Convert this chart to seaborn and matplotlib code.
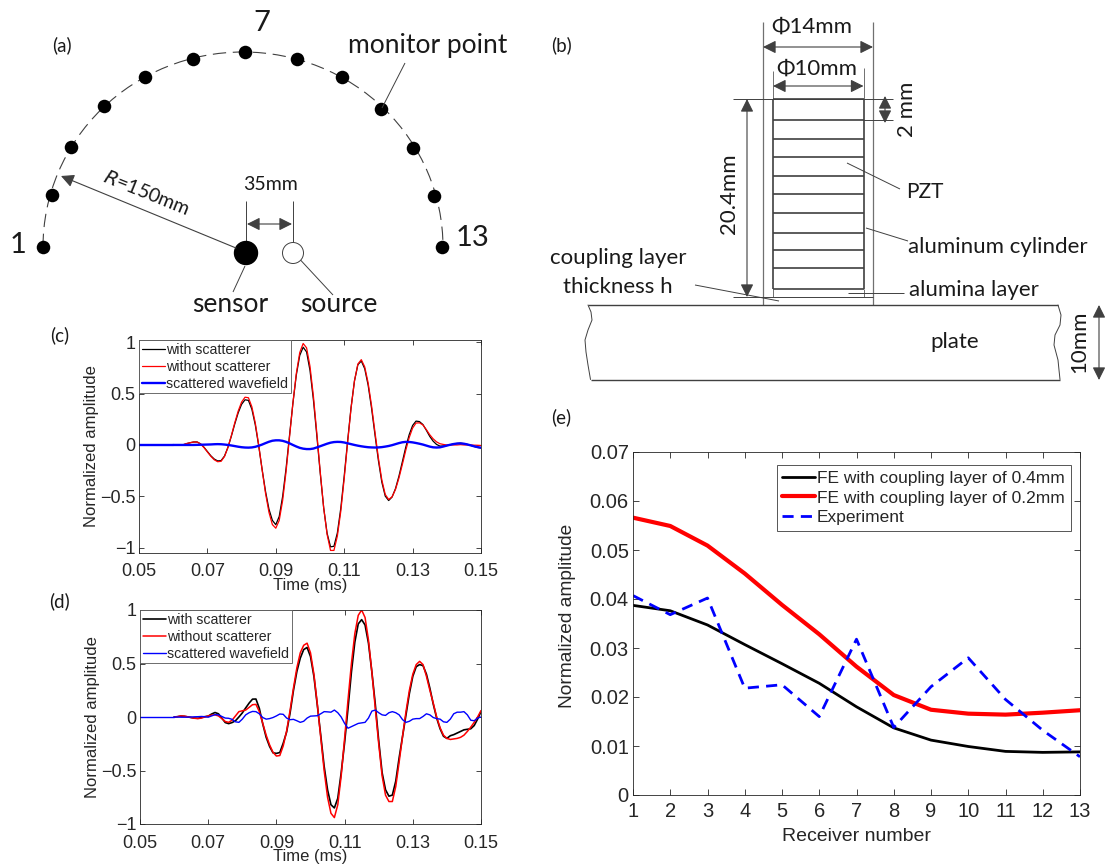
"""Five panel figure: receiver layout, transducer section, waveforms, amplitude vs receiver."""
import matplotlib.pyplot as plt
import seaborn as sns
from matplotlib.patches import Arc, Circle

# -------------------------------------------------------------------
# Data
# -------------------------------------------------------------------
time_ms = [
    0.060, 0.061, 0.062, 0.063, 0.064, 0.065, 0.066, 0.067, 0.068, 0.069,
    0.070, 0.071, 0.072, 0.073, 0.074, 0.075, 0.076, 0.077, 0.078, 0.079,
    0.080, 0.081, 0.082, 0.083, 0.084, 0.085, 0.086, 0.087, 0.088, 0.089,
    0.090, 0.091, 0.092, 0.093, 0.094, 0.095, 0.096, 0.097, 0.098, 0.099,
    0.100, 0.101, 0.102, 0.103, 0.104, 0.105, 0.106, 0.107, 0.108, 0.109,
    0.110, 0.111, 0.112, 0.113, 0.114, 0.115, 0.116, 0.117, 0.118, 0.119,
    0.120, 0.121, 0.122, 0.123, 0.124, 0.125, 0.126, 0.127, 0.128, 0.129,
    0.130, 0.131, 0.132, 0.133, 0.134, 0.135, 0.136, 0.137, 0.138, 0.139,
    0.140, 0.141, 0.142, 0.143, 0.144, 0.145, 0.146, 0.147, 0.148, 0.149,
    0.150,
]

c_without = [
    0, 0, 0, .003, .014, .022, .029, .028, .009, -.025,
    -.068, -.11, -.144, -.163, -.159, -.112, -.024, .09, .215, .329,
    .417, .464, .459, .371, .214, 0, -.242, -.47, -.655, -.774,
    -.809, -.733, -.54, -.259, .073, .405, .695, .898, .986, .944,
    .764, .473, .113, -.264, -.611, -.87, -1.025, -1.025, -.885, -.645,
    -.327, .023, .355, .622, .787, .829, .759, .603, .381, .124,
    -.127, -.34, -.481, -.53, -.504, -.432, -.322, -.19, -.052, .071,
    .164, .213, .215, .195, .15, .1, .06, .03, .012, .005,
    0, 0, 0, 0, .003, 0, 0, 0, -.002, -.003,
    -.005,
]
c_with = [
    0, 0, 0, .003, .014, .022, .029, .029, .011, -.022,
    -.064, -.105, -.137, -.155, -.152, -.108, -.024, .085, .204, .312,
    .395, .439, .433, .347, .196, -.008, -.238, -.452, -.624, -.733,
    -.775, -.695, -.5, -.229, .089, .405, .68, .87, .95, .904,
    .724, .438, .089, -.276, -.611, -.858, -.99, -.985, -.855, -.616,
    -.303, .039, .363, .622, .78, .816, .741, .581, .357, .099,
    -.151, -.361, -.497, -.54, -.506, -.424, -.304, -.164, -.022, .1,
    .189, .232, .227, .199, .144, .084, .037, .005, -.011, -.01,
    -.006, .002, .009, .014, .018, .012, .005, -.004, -.015, -.024,
    -.03,
]
c_scattered = [
    0, 0, 0, 0, 0, 0, 0, .001, .002, .003,
    .004, .005, .007, .008, .007, .004, 0, -.005, -.011, -.017,
    -.022, -.025, -.026, -.024, -.018, -.008, .004, .018, .031, .041,
    .045, .045, .04, .03, .016, 0, -.015, -.028, -.036, -.04,
    -.04, -.035, -.024, -.012, 0, .012, .022, .028, .03, .029,
    .024, .016, .008, 0, -.007, -.013, -.018, -.022, -.024, -.025,
    -.024, -.021, -.016, -.01, -.002, .008, .018, .026, .03, .029,
    .025, .019, .012, .004, -.006, -.016, -.023, -.025, -.023, -.015,
    -.006, .002, .009, .014, .015, .012, .005, -.004, -.013, -.021,
    -.026,
]

d_without = [
    0, .003, .01, .008, .002, -.005, -.012, -.015, -.01, 0,
    .01, .018, .02, .01, -.015, -.042, -.05, -.03, .01, .05,
    .058, .065, .09, .115, .118, .05, -.06, -.17, -.26, -.33,
    -.365, -.36, -.27, -.13, .06, .27, .46, .6, .67, .69,
    .6, .4, .12, -.19, -.5, -.75, -.9, -.94, -.82, -.55,
    -.2, .16, .5, .78, .95, 1.0, .93, .72, .42, .08,
    -.25, -.55, -.73, -.79, -.79, -.65, -.42, -.18, .05, .25,
    .4, .49, .52, .49, .38, .25, .13, 0, -.1, -.17,
    -.2, -.21, -.205, -.2, -.19, -.17, -.135, -.095, -.05, 0,
    .06,
]
d_with = [
    0, .003, .008, .006, .001, -.005, -.01, -.012, -.005, .003,
    .008, .028, .042, .03, -.01, -.052, -.062, -.052, -.035, 0,
    .038, .085, .13, .167, .168, .08, -.065, -.19, -.275, -.335,
    -.34, -.332, -.245, -.14, .035, .248, .425, .55, .63, .65,
    .565, .38, .11, -.17, -.46, -.68, -.82, -.85, -.76, -.52,
    -.24, .08, .42, .7, .87, .91, .86, .69, .42, .12,
    -.22, -.52, -.68, -.74, -.73, -.6, -.38, -.18, .02, .22,
    .38, .47, .49, .48, .4, .27, .12, -.01, -.11, -.18,
    -.2, -.175, -.165, -.15, -.135, -.12, -.115, -.11, -.08, -.02,
    .05,
]
d_scattered = [
    0, 0, -.002, -.002, -.001, 0, .002, .003, .005, .003,
    -.002, .01, .022, .02, .005, -.01, -.012, -.022, -.045, -.05,
    -.02, .02, .04, .052, .05, .03, -.005, -.02, -.015, -.005,
    .01, .028, .025, -.01, -.025, -.022, -.035, -.05, -.04, -.01,
    .008, .01, .012, .03, .05, .048, .045, .065, .04, 0,
    -.06, -.105, -.09, -.075, -.06, -.055, -.05, -.01, .055, .065,
    .04, .02, .015, .04, .05, .04, .02, -.025, -.05, -.04,
    -.02, -.015, -.015, .005, .03, .02, -.005, -.015, -.02, -.045,
    -.05, -.02, .03, .045, .045, .05, .02, -.03, -.035, -.01,
    0,
]

receivers = [1, 2, 3, 4, 5, 6, 7, 8, 9, 10, 11, 12, 13]
fe_04mm = [.0387, .0376, .0347, .0307, .0268, .0228, .018, .0137, .0112, .0099, .0089, .0087, .0088]
fe_02mm = [.0566, .0549, .0509, .0452, .0388, .0328, .0262, .0204, .0174, .0166, .0164, .0168, .0173]
experiment = [.0407, .0368, .0402, .0218, .0225, .016, .0318, .0138, .0221, .028, .0195, .0132, .0078]

wave_ticks = [0.05, 0.07, 0.09, 0.11, 0.13, 0.15]
wave_tick_labels = ["0.05", "0.07", "0.09", "0.11", "0.13", "0.15"]
amp_ticks = [-1, -0.5, 0, 0.5, 1]
amp_tick_labels = ["\u22121", "\u22120.5", "0", "0.5", "1"]
e_yticks = [0, .01, .02, .03, .04, .05, .06, .07]
e_ytick_labels = ["0", "0.01", "0.02", "0.03", "0.04", "0.05", "0.06", "0.07"]

# monitor points on the arc, in picture pixels
monitor_x = [43, 52, 71, 104, 145, 193, 245, 297, 342, 381, 413, 434, 442]
monitor_y = [247, 195, 147, 106, 77, 59, 52, 59, 77, 109, 148, 196, 247]
stack_y = [99.3, 120.3, 138.7, 157.3, 175.7, 194.3, 212.7, 233.3, 249.7, 268.3, 289]

W, H = 1105, 864
DIAGRAM_FONT = "Lato"
CHART_FONT = "Liberation Sans"
INK = "#262626"
LINE = "#404040"

sns.set_theme(style="ticks")
plt.rcParams["font.family"] = [CHART_FONT, "DejaVu Sans"]
plt.rcParams["axes.linewidth"] = 0.6
plt.rcParams["axes.edgecolor"] = INK
plt.rcParams["text.color"] = INK
plt.rcParams["axes.labelcolor"] = INK
plt.rcParams["xtick.color"] = INK
plt.rcParams["ytick.color"] = INK

fig = plt.figure(figsize=(W / 100, H / 100), dpi=100)

# -------------------------------------------------------------------
# Schematic layer in picture pixels
# -------------------------------------------------------------------
sketch = fig.add_axes([0, 0, 1, 1])
sketch.set_xlim(0, W)
sketch.set_ylim(H, 0)
sketch.axis("off")


def seg(x0, y0, x1, y1, lw=0.7, color=LINE):
    sketch.plot([x0, x1], [y0, y1], color=color, lw=lw, solid_capstyle="butt")


def arrow(x0, y0, x1, y1, style="<|-|>"):
    sketch.annotate("", xy=(x1, y1), xytext=(x0, y0), arrowprops=dict(
        arrowstyle=f"{style},head_length=0.6,head_width=0.3", color=LINE, lw=0.8,
        mutation_scale=13, shrinkA=0, shrinkB=0))


def label(x, y, s, size=17, rotation=0, **kw):
    sketch.text(x, y, s, fontsize=size, rotation=rotation, ha="center", va="center",
                family=[DIAGRAM_FONT, "DejaVu Sans"], color="#1a1a1a", **kw)


for x, y, s in [(62, 45, "(a)"), (561, 45, "(b)"), (60, 335, "(c)"), (60, 601, "(d)"), (561, 417, "(e)")]:
    label(x, y, s, size=13.5)

# (a) layout of the monitor points
sketch.add_patch(Arc((243, 247), 400, 390, theta1=180, theta2=360, color=LINE, lw=0.8,
                     linestyle=(0, (12, 6))))
sns.scatterplot(x=monitor_x, y=monitor_y, ax=sketch, s=95, color="black", linewidth=0, legend=False)
sketch.add_patch(Circle((246, 253), 11.5, color="black", zorder=3))
sketch.add_patch(Circle((293, 253), 10.5, fc="white", ec=LINE, lw=0.7, zorder=3))
seg(246, 201, 246, 243)
seg(293, 201, 293, 243)
arrow(247, 224, 292, 224)
arrow(236, 248, 61, 176, style="-|>")
seg(245, 266, 233, 292)
seg(294, 253, 333, 295)
seg(405, 63, 382, 108)
label(270, 184, "35mm", size=14)
label(146, 193, "$\\mathit{R}$=150mm", size=14, rotation=-22)
label(18, 245, "1", size=21)
label(473, 238, "13", size=21)
label(262, 23, "7", size=21)
label(428, 45, "monitor point", size=19)
label(230, 305, "sensor", size=19)
label(339, 305, "source", size=19)

# (b) transducer section
for x in (763, 873):
    seg(x, 22, x, 305, color="#707070", lw=0.9)
seg(773, 71, 773, 99, color="#707070")
seg(863.5, 68, 863.5, 99, color="#707070")
seg(773, 99, 773, 289, lw=1.2)
seg(863.5, 99, 863.5, 289, lw=1.2)
seg(773, 289, 773, 297, color="#707070")
seg(863.5, 289, 863.5, 297, color="#707070")
for y in stack_y:
    seg(773, y, 863.5, y, lw=1.2)
seg(733, 99, 893, 99)
seg(863, 120.3, 893, 120.3)
seg(733, 297, 873, 297)
arrow(763, 47, 873, 47)
arrow(773, 86, 863.5, 86)
arrow(885, 96, 885, 123, style="<|-|>")
arrow(747, 99, 747, 297)
arrow(1099, 305, 1099, 380)
seg(847, 163, 900, 189)
seg(866, 228, 908, 241)
seg(848, 293, 904, 293)
seg(695, 285, 779, 301)
seg(588, 305, 1058, 305, lw=1.0)
seg(590.5, 379.5, 1060, 379.5, lw=1.0)
sketch.plot([588, 591, 592, 588, 585, 586, 588, 590.5], [305, 312, 320, 330, 340, 352, 365, 379.5], color=LINE, lw=0.7)
sketch.plot([1058, 1061, 1060, 1055, 1054, 1058, 1059, 1060], [305, 315, 325, 335, 345, 360, 370, 379.5], color=LINE, lw=0.7)
label(812, 27, "\u03a614mm", size=16)
label(817, 69, "\u03a610mm", size=16)
label(907, 109, "2 mm", size=16, rotation=90)
label(729, 194, "20.4mm", size=16, rotation=90)
label(925, 192, "PZT", size=15)
label(998, 247, "aluminum cylinder", size=16)
label(974, 290, "alumina layer", size=16)
label(618, 258, "coupling layer", size=16)
label(618, 287, "thickness h", size=16)
label(955, 342, "plate", size=16)
label(1079, 342, "10mm", size=16, rotation=90)


# -------------------------------------------------------------------
# Chart panels
# -------------------------------------------------------------------
def panel_axes(left, right, top, bottom, xpad):
    ax = fig.add_axes([left / W, 1 - bottom / H, (right - left) / W, (bottom - top) / H])
    ax.patch.set_alpha(0)
    ax.tick_params(direction="in", top=True, right=True, length=3.5, width=0.6, pad=2.5)
    ax.tick_params(axis="x", pad=xpad)
    return ax


def waves(ax, with_vals, without_vals, scattered_vals, widths, ylim, xlabel_pad):
    sns.lineplot(x=time_ms, y=with_vals, ax=ax, color="black", lw=widths[0], label="with scatterer", errorbar=None)
    sns.lineplot(x=time_ms, y=without_vals, ax=ax, color="#ff0000", lw=widths[1], label="without scatterer", errorbar=None)
    sns.lineplot(x=time_ms, y=scattered_vals, ax=ax, color="#0000ff", lw=widths[2], label="scattered wavefield", errorbar=None)
    # flat part before the first sample
    ax.plot([0.05, time_ms[0]], [0, 0], color="#0000ff", lw=widths[2])
    ax.set_xlim(0.05, 0.15)
    ax.set_ylim(*ylim)
    ax.set_xticks(wave_ticks, wave_tick_labels, fontsize=13)
    ax.set_yticks(amp_ticks, amp_tick_labels, fontsize=13)
    ax.set_xlabel("Time (ms)", fontsize=12, labelpad=xlabel_pad)
    ax.set_ylabel("Normalized amplitude", fontsize=12, labelpad=0.5)
    leg = ax.legend(loc="upper left", bbox_to_anchor=(0, 1), borderaxespad=0, fontsize=10.2,
                    handlelength=1.6, handletextpad=0.1, labelspacing=0.2, borderpad=0.2,
                    fancybox=False, framealpha=1, edgecolor="#555555")
    leg.get_frame().set_linewidth(0.6)


ax_c = panel_axes(139, 481, 340, 553, 7)
waves(ax_c, c_with, c_without, c_scattered, (0.9, 0.9, 1.7), (-1.05, 1.02), -1.5)

ax_d = panel_axes(140, 481, 610, 824, 8)
waves(ax_d, d_with, d_without, d_scattered, (1.2, 1.1, 1.0), (-1, 1), -2.5)

ax_e = panel_axes(633, 1080, 452, 795, 5)
sns.lineplot(x=receivers, y=fe_04mm, ax=ax_e, color="black", lw=2, label="FE with coupling layer of 0.4mm", errorbar=None)
sns.lineplot(x=receivers, y=fe_02mm, ax=ax_e, color="#ff0000", lw=3, label="FE with coupling layer of 0.2mm", errorbar=None)
sns.lineplot(x=receivers, y=experiment, ax=ax_e, color="#0000ff", lw=2, linestyle=(0, (4, 2.6)), label="Experiment", errorbar=None)
ax_e.set_xlim(1, 13)
ax_e.set_ylim(0, 0.07)
ax_e.set_xticks(receivers, [str(r) for r in receivers], fontsize=14.5)
ax_e.set_yticks(e_yticks, e_ytick_labels, fontsize=14.5)
ax_e.tick_params(length=4.5, pad=3)
ax_e.tick_params(axis="x", pad=5)
ax_e.set_xlabel("Receiver number", fontsize=14, labelpad=5)
ax_e.set_ylabel("Normalized amplitude", fontsize=13.8, labelpad=10, y=0.522)
leg_e = ax_e.legend(loc="upper right", bbox_to_anchor=(1 - 9.5 / 447, 1 - 13 / 343), borderaxespad=0, fontsize=12.5,
                    handlelength=1.9, handletextpad=0.1, labelspacing=0.26, borderpad=0.33,
                    fancybox=False, framealpha=1, edgecolor="#555555")
leg_e.get_frame().set_linewidth(0.7)

fig.savefig("out.png", dpi=100)
